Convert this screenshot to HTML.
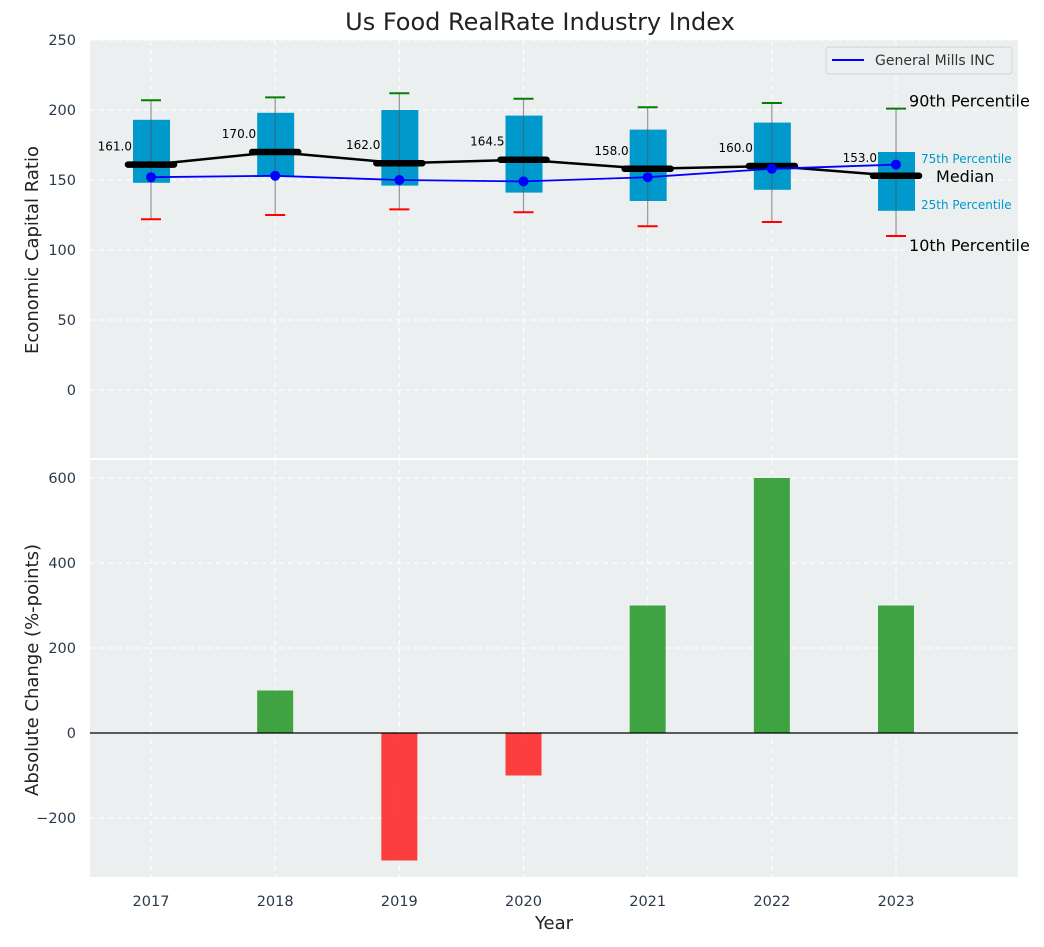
<!DOCTYPE html>
<html><head><meta charset="utf-8"><style>
body{margin:0;background:#fff;font-family:"Liberation Sans","DejaVu Sans",sans-serif}
svg text{font-family:"DejaVu Sans","Liberation Sans",sans-serif}
</style></head><body>
<svg id="c" width="1044" height="942" xmlns="http://www.w3.org/2000/svg">
<text x="540" y="30" font-size="24" text-anchor="middle" fill="#222">Us Food RealRate Industry Index</text>
<rect x="90" y="40" width="928" height="418" fill="#eceff0"/>
<rect x="90" y="460" width="928" height="417" fill="#eceff0"/>
<g id="gtop"></g><g id="gbot"></g>
<text x="38" y="250" font-size="18" fill="#222" text-anchor="middle" transform="rotate(-90 38 250)">Economic Capital Ratio</text>
<text x="38" y="670" font-size="18" fill="#222" text-anchor="middle" transform="rotate(-90 38 670)">Absolute Change (%-points)</text>
<text x="554" y="929" font-size="18" fill="#222" text-anchor="middle">Year</text>
<g>
<rect x="826" y="47" width="186" height="27" rx="3" fill="#eceff0" stroke="#d0d4d8"/>
<line x1="832" y1="60" x2="864" y2="60" stroke="#0000ff" stroke-width="2"/>
<text x="875" y="65" font-size="14" fill="#333">General Mills INC</text>
</g>
</svg>
<script>
const years=[2017,2018,2019,2020,2021,2022,2023];
const p10=[122,125,129,127,117,120,110];
const p25=[148,153,146,141,135,143,128];
const medians=[161,170,162,164.5,158,160,153];
const p75=[193,198,200,196,186,191,170];
const p90=[207,209,212,208,202,205,201];
const gm=[152,153,150,149,152,158,161];
const changes=[0,100,-300,-100,300,600,300];
const topTicks=[0,50,100,150,200,250];
const botTicks=[-200,0,200,400,600];

const NS="http://www.w3.org/2000/svg";
const X=i=>151+i*124.17;
const YT=v=>390-v*1.4;
const YB=v=>733-v*0.425;
function mk(p,t,a){const e=document.createElementNS(NS,t);for(const k in a)e.setAttribute(k,a[k]);p.appendChild(e);return e;}
const gTop=document.getElementById('gtop'),gBot=document.getElementById('gbot');
years.forEach((y,i)=>{
 [[40,458],[460,877]].forEach(r=>{const l=mk(gTop,'line',{x1:X(i),x2:X(i),y1:r[0],y2:r[1],stroke:'#fff','stroke-dasharray':'5,4','stroke-width':1});
 
 });
 const t=mk(gBot,'text',{x:X(i),y:906,'font-size':14.5,fill:'#2b3a4a','text-anchor':'middle'});t.textContent=y;
 
 
});
topTicks.forEach(v=>{
 const l=mk(gTop,'line',{x1:90,x2:1018,y1:YT(v),y2:YT(v),stroke:'#fff','stroke-dasharray':'5,4'});
 
 
 const t=mk(gTop,'text',{x:76,y:YT(v)+5,'font-size':14.5,fill:'#2b3a4a','text-anchor':'end'});t.textContent=v;
 
 
});
botTicks.forEach(v=>{
 const l=mk(gBot,'line',{x1:90,x2:1018,y1:YB(v),y2:YB(v),stroke:'#fff','stroke-dasharray':'5,4'});
 
 
 const t=mk(gBot,'text',{x:76,y:YB(v)+5,'font-size':14.5,fill:'#2b3a4a','text-anchor':'end'});t.textContent=v<0?'\u2212'+(-v):v;
 
 
});
years.forEach((y,i)=>{
 const x=X(i);
 const b=mk(gTop,'rect',{x:x-18,y:YT(p75[i]),width:37,height:YT(p25[i])-YT(p75[i]),fill:'#0099cc'});
 
 
 const w=mk(gTop,'line',{x1:x,x2:x,y1:YT(p10[i]),y2:YT(p90[i]),stroke:'#555','stroke-opacity':0.6,'stroke-width':1.2});
 
 
 const c1=mk(gTop,'line',{x1:x-10,x2:x+10,y1:YT(p90[i]),y2:YT(p90[i]),stroke:'green','stroke-width':2});
 
 
 const c2=mk(gTop,'line',{x1:x-10,x2:x+10,y1:YT(p10[i]),y2:YT(p10[i]),stroke:'red','stroke-width':2});
 
 
});
const mp=mk(gTop,'polyline',{points:medians.map((v,i)=>X(i)+','+YT(v)).join(' '),fill:'none',stroke:'#000','stroke-width':2.5});


years.forEach((y,i)=>{
 const x=X(i);
 const m=mk(gTop,'line',{x1:x-23,x2:x+23,y1:YT(medians[i]),y2:YT(medians[i]),stroke:'#000','stroke-width':6.5,'stroke-linecap':'round'});
 
 
 const t=mk(gTop,'text',{x:x-19,y:YT(medians[i])-14,'font-size':12,fill:'#000','text-anchor':'end'});t.textContent=medians[i].toFixed(1);
 
 
});
const gl=mk(gTop,'polyline',{points:gm.map((v,i)=>X(i)+','+YT(v)).join(' '),fill:'none',stroke:'#0000ff','stroke-width':1.8});


gm.forEach((v,i)=>{const c=mk(gTop,'circle',{cx:X(i),cy:YT(v),r:5,fill:'#0000ff'});
 
 });
const L=years.length-1,lx=X(L);
[[p90[L],'90th Percentile',16,'#000',lx+13,-2],[p10[L],'10th Percentile',16,'#000',lx+13,15],[p75[L],'75th Percentile',12,'#0099cc',lx+25,11],[p25[L],'25th Percentile',12,'#0099cc',lx+25,-2],[medians[L],'Median',16,'#000',lx+40,6]].forEach(a=>{
 const t=mk(gTop,'text',{x:a[4],y:YT(a[0])+a[5],'font-size':a[2],fill:a[3]});t.textContent=a[1];
 
 
});
changes.forEach((v,i)=>{
 const y0=YB(0),y1=YB(v);
 const r=mk(gBot,'rect',{x:X(i)-18,y:Math.min(y0,y1),width:36,height:Math.abs(y1-y0),fill:v>=0?'#2e9a2e':'#ff2a2a','fill-opacity':0.9});
 
 
});
const z=mk(gBot,'line',{x1:90,x2:1018,y1:YB(0),y2:YB(0),stroke:'#000','stroke-width':1.3});


</script>
</body></html>
